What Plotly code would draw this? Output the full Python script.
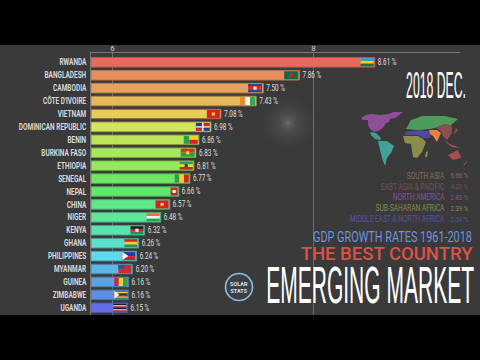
import json
import plotly.graph_objects as go

countries = ["RWANDA","BANGLADESH","CAMBODIA","CÔTE D'IVOIRE","VIETNAM","DOMINICAN REPUBLIC","BENIN","BURKINA FASO","ETHIOPIA","SENEGAL","NEPAL","CHINA","NIGER","KENYA","GHANA","PHILIPPINES","MYANMAR","GUINEA","ZIMBABWE","UGANDA"]
values = [8.61,7.86,7.50,7.43,7.08,6.98,6.86,6.83,6.81,6.77,6.66,6.57,6.48,6.32,6.26,6.24,6.20,6.16,6.16,6.15]
colors = ["#F06C5E","#F09060","#EDA561","#EDC05E","#E8D75A","#DAEC5C","#C1EE5C","#AAF05C","#98F05E","#70F062","#62F06E","#61F08A","#61ECA0","#5EE8B6","#5EE6CE","#5EE2F4","#5EBCF0","#5EA8E8","#5E92F0","#6172F0"]
borders = ["#B8604E","#B87A4A","#B0854A","#A89048","#A85040","#A0A848","#8A9A40","#80A048","#70A048","#58A850","#50A858","#50A870","#50A880","#50A090","#50A098","#50A0B0","#5085A8","#4E7FA8","#5070A8","#5058A8"]

# flag: (orientation, stripes, emblem colour, width in px)
flags = [
 ("h",["#2A9FD8","#FAD201","#20703D"],None,13),
 ("h",["#14664A"],"#D8202A",14),
 ("h",["#1F3F9E","#D8202A","#D8202A","#1F3F9E"],"#F0F0F0",14),
 ("v",["#F08A24","#F5F5F5","#2CA858"],None,15),
 ("h",["#D8202A"],"#F7D020",13),
 ("q",["#1F3F8E","#D8202A"],"#F0F0F0",14),
 ("b",["#2E9E4F","#F7D020","#D8202A"],None,14),
 ("h",["#D8302A","#2E9E4F"],"#F7D020",14),
 ("h",["#2E9E4F","#F0D020","#D8202A"],"#2040A0",13),
 ("v",["#2E9E4F","#F7D020","#D8202A"],None,14),
 ("h",["#D8202A","#C02040"],"#F0F0F0",7),
 ("h",["#D8202A"],"#F7D020",13),
 ("h",["#E8772A","#F5F5F5","#2E9E4F"],None,13),
 ("h",["#1A1A1A","#C8202A","#2E8E4F"],"#F0F0F0",13),
 ("h",["#D8202A","#F7D020","#2E8E4F"],None,13),
 ("p",["#2040A8","#D8202A"],"#F5F5F5",13),
 ("h",["#C83030"],"#3050A0",13),
 ("v",["#D8202A","#F7D020","#2E9E4F"],None,13),
 ("h",["#2E8E4F","#F7D020","#C8202A","#1A1A1A","#C8202A","#F7D020","#2E8E4F"],"#F5F5F5",13),
 ("h",["#1A1A1A","#F7D020","#C8202A","#1A1A1A","#F7D020","#C8202A"],None,13),
]

legend_names = ["SOUTH ASIA","EAST ASIA & PACIFIC","NORTH AMERICA","SUB-SAHARAN AFRICA","MIDDLE EAST & NORTH AFRICA"]
legend_values = ["6.66 %","4.20 %","2.83 %","2.39 %","2.34 %"]
legend_colors = ["#8E6D4A","#7E4C50","#8C5096","#8A874A","#5C509E"]

# world map regions (outline in picture coordinates)
regions = {
 "North America": ("#8E4F98",[(361,118),(366,115),(372,114),(380,115),(388,114),(394,112),(403,112),(398,116),(395,118),(390,119),(389,122),(386,123),(383,128),(378,131),(374,132),(370,129),(368,125),(368,120),(363,120)]),
 "Central America": ("#3F9C96",[(370,132),(376,133),(381,138),(380,140),(375,139),(371,135)]),
 "South America": ("#44A09A",[(378,141),(387,141),(394,146),(391,153),(387,158),(385,166),(383,161),(380,150)]),
 "Europe & Central Asia": ("#4E9C5C",[(406,129),(409,124),(411,120),(417,118),(422,116),(435,116),(445,116),(458,119),(455,122),(450,126),(445,124),(435,128),(430,129),(418,130)]),
 "Middle East": ("#50489E",[(405,132),(418,130),(430,131),(430,138),(423,138),(418,135),(405,135)]),
 "Sub-Saharan Africa": ("#8C8C4C",[(403,136),(418,136),(423,139),(426,142),(422,152),(417,158),(413,157),(411,144),(405,143)]),
 "Madagascar": ("#8C8C4C",[(426,152),(428,151),(427,157),(425,157)]),
 "South Asia": ("#E8823C",[(429,130),(437,130),(441,133),(437,142),(433,136),(430,134)]),
 "East Asia": ("#8E4E50",[(436,128),(445,124),(452,126),(452,133),(447,140),(442,135),(441,131)]),
 "Japan": ("#8E4E50",[(456,128),(458,130),(455,134),(454,133)]),
 "South East Asia": ("#A84E50",[(443,140),(452,145),(462,148),(452,147)]),
 "Australia": ("#A84E50",[(448,155),(458,150),(461,158),(453,160)]),
 "New Zealand": ("#A84E50",[(466,162),(468,160),(465,165),(463,166)]),
}

PX = 100.5
BASE = 6 - 21.5 / PX
XMAX = 6 + (460 - 112.5) / PX
PITCH = 12.92
Y0 = 62.3
top_i = (53 - Y0) / PITCH
bot_i = (315 - Y0) / PITCH

fig = go.Figure()
idx = list(range(len(countries)))
fig.add_trace(go.Bar(
    x=[v - BASE for v in values], base=BASE, y=idx, orientation="h", width=0.74,
    marker=dict(color=colors, line=dict(color=borders, width=1)), opacity=0.96,
    text=[f"{v:.2f} %" for v in values], textposition="outside", cliponaxis=False,
    textfont=dict(family="Roboto", size=9, color="#E4E4E4"),
    hoverinfo="skip", showlegend=False))

shapes = []
def rect(x0, x1, y0, y1, c):
    shapes.append(dict(type="rect", xref="x", yref="y", x0=x0, x1=x1, y0=y0, y1=y1,
                       fillcolor=c, line=dict(width=0), layer="above"))

H = 0.31
for i, (v, fl) in enumerate(zip(values, flags)):
    kind, st, em, w = fl
    x1 = v - 1.2 / PX
    x0 = x1 - w / PX
    if kind == "h":
        n = len(st)
        for k, c in enumerate(st):
            rect(x0, x1, i - H + 2 * H * k / n, i - H + 2 * H * (k + 1) / n, c)
    elif kind == "v":
        n = len(st)
        for k, c in enumerate(st):
            rect(x0 + (x1 - x0) * k / n, x0 + (x1 - x0) * (k + 1) / n, i - H, i + H, c)
    elif kind == "q":
        rect(x0, x1, i - H, i + H, em)
        m = (x0 + x1) / 2
        d = 0.8 / PX
        rect(x0, m - d, i - H, i - 0.05, st[0]); rect(m + d, x1, i - H, i - 0.05, st[1])
        rect(x0, m - d, i + 0.05, i + H, st[1]); rect(m + d, x1, i + 0.05, i + H, st[0])
    elif kind == "b":
        m = x0 + (x1 - x0) * 0.4
        rect(x0, m, i - H, i + H, st[0]); rect(m, x1, i - H, i, st[1]); rect(m, x1, i, i + H, st[2])
    elif kind == "p":
        rect(x0, x1, i - H, i, st[0]); rect(x0, x1, i, i + H, st[1])
        shapes.append(dict(type="path", xref="x", yref="y", layer="above", line=dict(width=0), fillcolor=em,
                           path=f"M {x0} {i-H} L {x0 + 6/PX} {i} L {x0} {i+H} Z"))
    if em and kind in ("h",):
        cx = (x0 + x1) / 2
        if countries[i] == "MYANMAR":
            rect(x0, x0 + 6 / PX, i - H, i, em)
        elif countries[i] == "ZIMBABWE":
            shapes.append(dict(type="path", xref="x", yref="y", layer="above", line=dict(width=0), fillcolor=em,
                               path=f"M {x0} {i-H} L {x0 + 5/PX} {i} L {x0} {i+H} Z"))
        else:
            rect(cx - 1.6 / PX, cx + 1.6 / PX, i - 0.12, i + 0.12, em)

# black bands
shapes.append(dict(type="rect", xref="paper", yref="paper", x0=0, x1=1, y0=1 - 45 / 360, y1=1, fillcolor="#000000", line=dict(width=0), layer="below"))
shapes.append(dict(type="rect", xref="paper", yref="paper", x0=0, x1=1, y0=0, y1=1 - 315 / 360, fillcolor="#000000", line=dict(width=0), layer="below"))

# glow
glow_sizes = [54, 48, 42, 36, 30, 24, 18, 13, 9, 5, 3]
glow_alpha = [.008, .01, .012, .015, .018, .025, .03, .035, .04, .05, .06]
for s, a in zip(glow_sizes, glow_alpha):
    fig.add_trace(go.Scatter(x=[288], y=[123], xaxis="x2", yaxis="y2", mode="markers",
                             marker=dict(size=s, color=f"rgba(255,255,255,{a})", line=dict(width=0)), hoverinfo="skip", showlegend=False))

# map
for name, (c, pts) in regions.items():
    fig.add_trace(go.Scatter(x=[p[0] for p in pts], y=[p[1] for p in pts], xaxis="x2", yaxis="y2",
                             mode="lines", fill="toself", fillcolor=c, line=dict(width=0, color=c),
                             hoverinfo="skip", showlegend=False, name=name))

# logo
fig.add_trace(go.Scatter(x=[239], y=[287], xaxis="x2", yaxis="y2", mode="markers",
                         marker=dict(size=27, color="#3c3f44", line=dict(color="#8FBEDC", width=1.6)),
                         hoverinfo="skip", showlegend=False))

annotations = []
def txt(s, x, y, size, color, anchor="center", family="Roboto", bold=False, weight=None):
    f = dict(family=family, size=size, color=color)
    if weight:
        f["weight"] = weight
    annotations.append(dict(text=f"<b>{s}</b>" if bold else s, x=x, y=y, xref="x2", yref="y2",
                            xanchor=anchor, yanchor="middle", showarrow=False, font=f))

txt("2018 DEC.", 435.5, 85.5, 36, "#FFFFFF", family="Liberation Sans")
for k, (n, v, c) in enumerate(zip(legend_names, legend_values, legend_colors)):
    y = 175.7 + k * 10.85
    txt(n, 446.5, y, 8.5, c, "right")
    txt(v, 470, y, 7.5, c, "right")
txt("GDP GROWTH RATES 1961-2018", 392.5, 236.5, 14, "#6F93DC")
txt("THE BEST COUNTRY", 386, 253.5, 18, "#DE5048", weight=500)
txt("EMERGING MARKET", 370, 285, 52, "#FFFFFF", family="Liberation Sans")
txt("SOLAR<br>STATS", 239, 287, 5.5, "#D8E4EC", bold=True)

fig.update_layout(
    width=480, height=360, margin=dict(l=0, r=0, t=0, b=0, autoexpand=False), autosize=False,
    paper_bgcolor="#3A3A3A", plot_bgcolor="rgba(0,0,0,0)", shapes=shapes, annotations=annotations,
    xaxis=dict(domain=[91 / 480, 460 / 480], range=[BASE, XMAX], side="top", tickvals=[6, 8], ticktext=["6", "8"],
               automargin=False, showgrid=True, gridcolor="#6E6E6E", gridwidth=1, zeroline=False, showline=True, linecolor="#787878",
               ticks="", ticklabelstandoff=-2, tickfont=dict(family="Roboto", size=8, color="#D0D0D0"), anchor="y"),
    yaxis=dict(domain=[1 - 315 / 360, 1 - 53 / 360], range=[bot_i, top_i], tickvals=idx, ticktext=countries,
               automargin=False, showgrid=False, zeroline=False, showline=True, linecolor="#787878", linewidth=1,
               ticks="outside", ticklen=2, tickcolor="rgba(0,0,0,0)",
               tickfont=dict(family="Roboto", size=9, color="#D8D8D8", weight="bold"), anchor="x"),
    xaxis2=dict(domain=[0, 1], range=[0, 480], visible=False, anchor="y2", fixedrange=True, automargin=False),
    yaxis2=dict(domain=[0, 1], range=[360, 0], visible=False, anchor="x2", fixedrange=True, automargin=False),
)

widths = {"EMERGING MARKET": 208, "2018 DEC.": 60, "GDP GROWTH RATES 1961-2018": 159, "THE BEST COUNTRY": 172}
post = """
document.body.style.margin='0';
var W=%s;
function fit(t,r,side){
  var b=t.getBBox();
  var p=side==='right'?b.x+b.width:(side==='left'?b.x:b.x+b.width/2);
  var old=t.getAttribute('transform')||'';
  t.setAttribute('transform',old+' translate('+p+',0) scale('+r+',1) translate('+(-p)+',0)');
}
document.querySelectorAll('.annotation-text').forEach(function(t){
  var s=t.textContent;
  if(W[s]){fit(t,W[s]/t.getComputedTextLength(),'middle');}
  else if(s.indexOf('SOLAR')<0){fit(t,s.indexOf('%%')>=0?0.8:0.78,'right');}
});
document.querySelectorAll('.ytick text').forEach(function(t){fit(t,0.72,'right');});
document.querySelectorAll('.bartext').forEach(function(t){fit(t,0.74,'left');});
""" % json.dumps(widths)
fig.write_html("out.html", post_script=post, config=dict(displayModeBar=False))
